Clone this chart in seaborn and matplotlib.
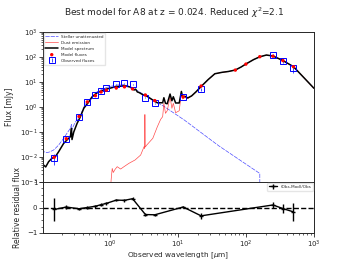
import numpy as np
import matplotlib
matplotlib.use("Agg")
import matplotlib.pyplot as plt
import seaborn as sns
from matplotlib.ticker import AutoMinorLocator

# photometric bands (micron), observed fluxes and errors (mJy)
filter_wl = [0.153, 0.231, 0.355, 0.469, 0.617, 0.748, 0.893, 1.25, 1.65, 2.17,
             3.35, 4.6, 12.0, 22.0, 250.0, 350.0, 500.0]
obs_flux = [0.009, 0.055, 0.40, 1.6, 3.0, 4.5, 5.6, 8.1, 8.9, 8.1,
            2.35, 1.4, 2.6, 5.2, 120.0, 69.0, 35.0]
obs_err = [0.0042, 0.0039, 0.02, 0.08, 0.15, 0.22, 0.28, 0.4, 0.45, 0.4,
           0.12, 0.07, 0.13, 0.68, 12.0, 12.0, 12.0]
# model fluxes at the observed bands
model_flux = [0.0097, 0.054, 0.42, 1.6, 2.85, 4.0, 4.7, 5.75, 6.4, 5.3,
              3.0, 1.8, 2.55, 6.9, 108.0, 72.0, 41.0]
# model-only bands (PACS)
extra_wl = [70.0, 100.0, 160.0]
extra_flux = [30.0, 52.0, 103.0]

# best-fit model spectrum
spec_wl = [0.100, 0.107, 0.115, 0.127, 0.142, 0.159, 0.178, 0.211, 0.236, 0.265,
           0.275, 0.280, 0.297, 0.332, 0.372, 0.417, 0.495, 0.553, 0.654, 0.87,
           1.23, 1.66, 2.0, 2.29, 2.4, 2.55, 2.7, 3.2, 3.29, 3.4,
           4.3, 5.0, 6.0, 6.25, 6.6, 7.0, 7.7, 8.2, 8.6, 9.3,
           10.5, 11.3, 11.8, 12.7, 14.0, 16.0, 18.6, 22.0, 28.0, 35.0,
           45.0, 55.0, 70.0, 85.0, 100.0, 130.0, 160.0, 200.0, 250.0, 350.0,
           500.0, 1000.0]
spec_flux = [0.0039, 0.0048, 0.0040, 0.0065, 0.0089, 0.0102, 0.0162, 0.035, 0.048, 0.065,
             0.14, 0.050, 0.10, 0.22, 0.41, 0.89, 1.62, 2.57, 3.7, 5.1,
             6.5, 7.1, 6.3, 4.8, 5.2, 4.0, 3.8, 2.9, 3.2, 2.9,
             1.9, 1.48, 1.48, 2.35, 1.41, 1.35, 3.3, 1.78, 2.57, 1.45,
             1.45, 4.2, 2.5, 2.7, 2.3, 2.8, 4.1, 6.6, 12.6, 21.4,
             24.5, 26.3, 30.2, 39.8, 52.5, 79.0, 102.0, 120.0, 110.0, 72.0,
             41.0, 5.6]

# dust emission
dust_wl = [1.03, 1.05, 1.09, 1.13, 1.2, 1.29, 1.45, 1.6, 1.92, 2.36,
           2.85, 3.2, 3.26, 3.29, 3.33, 3.5, 4.3, 5.0, 5.6, 6.0,
           6.25, 6.6, 7.0, 7.7, 8.2, 8.6, 9.3, 10.5, 11.3, 11.8,
           12.7, 14.0, 16.0, 18.6, 22.0, 28.0, 35.0, 45.0, 55.0, 70.0,
           85.0, 100.0, 130.0, 160.0, 200.0, 250.0, 350.0, 500.0, 1000.0]
dust_flux = [0.0005, 0.0012, 0.0035, 0.0024, 0.0032, 0.0041, 0.0033, 0.0040, 0.0056, 0.0076,
             0.012, 0.026, 0.022, 0.50, 0.025, 0.030, 0.056, 0.16, 0.32, 0.41,
             1.41, 0.56, 0.71, 2.5, 0.89, 1.41, 0.59, 0.71, 3.55, 2.1,
             2.4, 2.2, 2.75, 4.0, 6.5, 12.5, 21.3, 24.4, 26.2, 30.1,
             39.7, 52.4, 79.0, 102.0, 120.0, 110.0, 72.0, 41.0, 5.6]

# unattenuated stellar emission
stellar_wl = [0.100, 0.110, 0.120, 0.130, 0.150, 0.160, 0.178, 0.211, 0.236, 0.265,
              0.275, 0.280, 0.31, 0.372, 0.43, 0.553, 0.65, 0.8, 1.0, 1.3,
              1.65, 2.2, 3.4, 4.6, 6.0, 12.5, 40.0, 160.0, 161.0]
stellar_flux = [0.0132, 0.0162, 0.0150, 0.0158, 0.0190, 0.0224, 0.030, 0.056, 0.089, 0.141,
                0.20, 0.13, 0.24, 0.48, 1.2, 2.6, 4.0, 5.4, 6.6, 7.6,
                7.9, 5.8, 2.8, 1.66, 1.15, 0.30, 0.028, 0.0022, 1e-6]

obs = np.array(obs_flux)
mod = np.array(model_flux)
resid = (obs - mod) / obs
resid_err = np.array(obs_err) / obs

sns.set_style("ticks")
plt.rcParams['font.family'] = ['DejaVu Sans']
plt.rcParams['axes.linewidth'] = 0.7

fig = plt.figure(figsize=(3.49, 2.62), dpi=100)
ax1 = fig.add_axes([0.1232, 0.3053, 0.7765, 0.5725])
ax2 = fig.add_axes([0.1232, 0.1107, 0.7765, 0.1946], sharex=ax1)

sns.lineplot(x=stellar_wl, y=stellar_flux, ax=ax1, color='b', lw=0.5, alpha=0.7,
             dashes=False, linestyle=(0, (6, 1.5)), estimator=None, sort=False,
             label='Stellar unattenuated')
sns.lineplot(x=dust_wl, y=dust_flux, ax=ax1, color='r', lw=0.5, alpha=0.7,
             estimator=None, sort=False, label='Dust emission')
sns.lineplot(x=spec_wl, y=spec_flux, ax=ax1, color='k', lw=1.1,
             estimator=None, sort=False, label='Model spectrum')
sns.scatterplot(x=filter_wl + extra_wl, y=model_flux + extra_flux, ax=ax1,
                color='r', s=6, edgecolor='none', zorder=3, label='Model fluxes')
ax1.errorbar(filter_wl, obs_flux, yerr=obs_err, ls='', marker='s', mfc='none',
             mec='b', ms=4, mew=0.7, ecolor='b', elinewidth=0.5, capsize=0,
             label='Observed fluxes')

ax1.set_xscale('log')
ax1.set_yscale('log')
ax1.set_xlim(0.105, 1000)
ax1.set_ylim(1e-3, 1e3)
ax1.set_ylabel('Flux [mJy]', fontsize=5.5)
ax1.tick_params(labelbottom=False)
ax1.legend(loc='upper left', fontsize=3, fancybox=True, framealpha=0.5,
           borderaxespad=0.2, handlelength=3)

ax2.errorbar(filter_wl, resid, yerr=resid_err, marker='_', ms=3, color='k', lw=1,
             elinewidth=1, capsize=0, label='(Obs-Mod)/Obs')
ax2.axhline(0, ls='--', color='k', lw=1)
ax2.set_ylim(-1, 1)
ax2.set_yticks([-1, 0, 1])
ax2.yaxis.set_minor_locator(AutoMinorLocator(4))
ax2.set_xlabel('Observed wavelength [$\\mu$m]', fontsize=5.3, labelpad=0.5)
ax2.set_ylabel('Relative residual flux', fontsize=5.5)
ax2.legend(loc='upper right', fontsize=3, fancybox=True, framealpha=0.5,
           borderaxespad=0.3)

for ax in (ax1, ax2):
    ax.tick_params(which='major', labelsize=5, length=3, width=0.6, pad=1)
    ax.tick_params(which='minor', length=1.6, width=0.5)

fig.align_ylabels([ax1, ax2])
fig.suptitle('Best model for A8 at z = 0.024. Reduced $\\chi^2$=2.1', fontsize=6.5,
             y=0.978, va='top')

fig.savefig('out.png', dpi=100)
